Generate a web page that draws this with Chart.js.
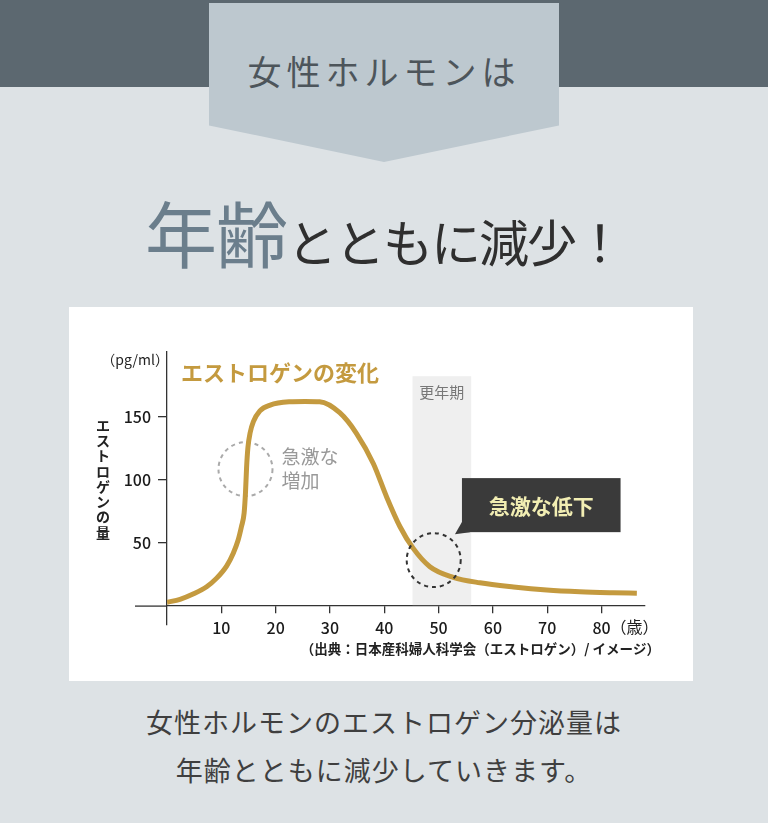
<!DOCTYPE html>
<html lang="ja">
<head>
    <meta charset="UTF-8">
    <title>エストロゲンの変化</title>
    <style>
        body {
            margin: 0;
            width: 768px;
            height: 823px;
            background: #dde2e5;
            position: relative;
            overflow: hidden;
            font-family: 'Noto Sans CJK JP', sans-serif;
        }
        .band {
            position: absolute; left: 0; top: 0; width: 768px; height: 87px;
            background: #5c6870;
        }
        .tag {
            position: absolute; left: 209px; top: 3px; width: 350px; height: 159px;
            background: #bdc8cf;
            clip-path: polygon(0 0, 100% 0, 100% 77%, 50% 100%, 0 77%);
        }
        .tag div {
            position: absolute; left: 0; right: 0; top: 48px;
            text-align: center; font-size: 34px; line-height: 40px;
            letter-spacing: 5px; color: #4d555b;
        }
        .headline {
            position: absolute; left: 0; top: 186px; width: 768px;
            text-align: center; white-space: nowrap;
            font-size: 50px; line-height: 90px; letter-spacing: -2px;
            font-weight: 400; color: #2f2f2f;
        }
        .headline .big { font-size: 72px; letter-spacing: -1px; color: #6b7e8c; }
        .panel {
            position: absolute; left: 69px; top: 307px; width: 624px; height: 374px;
            background: #fff;
        }
        .note {
            position: absolute; left: 0; top: 698px; width: 768px;
            text-align: center; font-size: 27px; line-height: 48px;
            letter-spacing: 1px; color: #3f3f3f;
        }
    </style>
</head>
<body>
    <div class="band"></div>
    <div class="tag"><div>女性ホルモンは</div></div>
    <div class="headline"><span class="big">年齢</span>とともに減少！</div>
    <div class="panel">
        <canvas id="estrogenChart" width="624" height="374"></canvas>
    </div>
    <div class="note">女性ホルモンのエストロゲン分泌量は<br>年齢とともに減少していきます。</div>

    <script src="https://cdn.jsdelivr.net/npm/chart.js"></script>
    <script>
        // 年齢（歳）とエストロゲン量（pg/ml）、図から読み取り
        const ages = [0, 2.4, 4.8, 7.3, 9.1, 11.0, 12.2, 13.1, 13.7, 14.2, 14.45, 14.65, 14.9,
                      15.3, 15.9, 17.1, 19.0, 22.6, 25.4, 28.1, 31.8, 34.9, 38.0, 40.4,
                      42.9, 45.3, 48.4, 52.7, 57.6, 63.8, 69.9, 76.0, 82.1, 86.5];
        const estrogen = [3, 5.4, 9.6, 15.4, 22, 32, 42, 52.5, 63, 74, 90, 110, 126,
                          137.5, 146.4, 155, 159.6, 162.2, 162.5, 162.2, 153.5, 137, 113, 87,
                          63, 46, 31.3, 22.9, 18.5, 15.2, 12.8, 11.4, 10.6, 10.2];
        const xTicks = [10, 20, 30, 40, 50, 60, 70, 80];
        const yTicks = [50, 100, 150];
        const menopause = [45.2, 56];   // 更年期

        const font = "'Noto Sans CJK JP', sans-serif";

        function dashedCircle(ctx, cx, cy, r, color) {
            ctx.save();
            ctx.strokeStyle = color;
            ctx.lineWidth = 2;
            ctx.setLineDash([4, 4]);
            ctx.beginPath();
            ctx.arc(cx, cy, r, 0, Math.PI * 2);
            ctx.stroke();
            ctx.restore();
        }

        const notes = {
            id: 'notes',
            beforeDatasetsDraw(chart) {
                const { ctx, scales: { x, y } } = chart;
                ctx.save();
                // x軸の左側の延長
                const y0 = y.getPixelForValue(0);
                ctx.strokeStyle = '#333';
                ctx.lineWidth = 1.3;
                ctx.beginPath();
                ctx.moveTo(x.left - 32, y0);
                ctx.lineTo(x.left, y0);
                ctx.stroke();

                // 更年期の帯
                const l = x.getPixelForValue(menopause[0]);
                const r = x.getPixelForValue(menopause[1]);
                const t = y.getPixelForValue(182.5);
                const b = y0 - 1;
                ctx.fillStyle = '#efefef';
                ctx.fillRect(l, t, r - l, b - t);
                ctx.fillStyle = '#777';
                ctx.font = '15px ' + font;
                ctx.textAlign = 'center';
                ctx.textBaseline = 'middle';
                ctx.fillText('更年期', (l + r) / 2, y.getPixelForValue(169.5));

                // 急激な増加
                dashedCircle(ctx, x.getPixelForValue(14.45), y.getPixelForValue(108.7), 27, '#aaa');
                ctx.fillStyle = '#999';
                ctx.font = '19px ' + font;
                ctx.textAlign = 'left';
                ctx.fillText('急激な', x.getPixelForValue(21.1), y.getPixelForValue(118.5));
                ctx.fillText('増加', x.getPixelForValue(21.1), y.getPixelForValue(99.5));

                // タイトル
                ctx.fillStyle = '#c49a3f';
                ctx.font = 'bold 22px ' + font;
                ctx.fillText('エストロゲンの変化', x.getPixelForValue(2.6), y.getPixelForValue(185.5));

                // 単位
                ctx.fillStyle = '#222';
                ctx.font = '14px ' + font;
                ctx.textAlign = 'right';
                ctx.fillText('（pg/ml）', x.left + 2, y.getPixelForValue(195.5));

                // 縦書きの軸タイトル
                const label = 'エストロゲンの量';
                ctx.font = 'bold 14px ' + font;
                ctx.textAlign = 'center';
                const cx = x.left - 64;
                const cy = y.getPixelForValue(101);
                [...label].forEach((ch, i) => {
                    ctx.fillText(ch, cx, cy + (i - 3.5) * 15.3);
                });

                // 単位（歳）と出典
                ctx.font = '16px ' + font;
                ctx.textAlign = 'left';
                ctx.fillText('（歳）', x.getPixelForValue(80) + 9, y0 + 21);
                ctx.font = 'bold 13.5px ' + font;
                ctx.textAlign = 'right';
                ctx.fillText('（出典：日本産科婦人科学会（エストロゲン）/ イメージ）', x.right + 15, y0 + 43);
                ctx.restore();
            },
            afterDatasetsDraw(chart) {
                const { ctx, scales: { x, y } } = chart;
                dashedCircle(ctx, x.getPixelForValue(49.1), y.getPixelForValue(36.5), 27, '#333');

                // 急激な低下の吹き出し
                const l = x.getPixelForValue(54.3), r = x.getPixelForValue(83.5);
                const t = y.getPixelForValue(101.6), b = y.getPixelForValue(58.7);
                ctx.save();
                ctx.fillStyle = '#3a3a3a';
                ctx.fillRect(l, t, r - l, b - t);
                ctx.beginPath();
                ctx.moveTo(l + 1, b - 12);
                ctx.lineTo(l - 7, b + 2);
                ctx.lineTo(l + 8, b);
                ctx.closePath();
                ctx.fill();
                ctx.fillStyle = '#f2eeb3';
                ctx.font = 'bold 21px ' + font;
                ctx.textAlign = 'center';
                ctx.textBaseline = 'middle';
                ctx.fillText('急激な低下', (l + r) / 2, (t + b) / 2 + 1);
                ctx.restore();
            }
        };

        new Chart(document.getElementById('estrogenChart'), {
            type: 'line',
            data: {
                datasets: [{
                    data: ages.map((a, i) => ({ x: a, y: estrogen[i] })),
                    borderColor: '#c49a3f',
                    borderWidth: 5,
                    pointRadius: 0,
                    cubicInterpolationMode: 'monotone',
                    fill: false
                }]
            },
            options: {
                responsive: false,
                animation: false,
                layout: { padding: { left: 48, right: 48, top: 45, bottom: 56 } },
                plugins: {
                    legend: { display: false },
                    tooltip: { enabled: false }
                },
                scales: {
                    x: {
                        type: 'linear',
                        min: 0,
                        max: 88,
                        position: { y: 0 },
                        afterBuildTicks: s => { s.ticks = xTicks.map(v => ({ value: v })); },
                        grid: { drawOnChartArea: false, tickLength: 7, color: '#333', lineWidth: 1.3 },
                        border: { color: '#333', width: 1.3 },
                        ticks: { color: '#1a1a1a', padding: 5, font: { family: font, size: 16, weight: 500 } }
                    },
                    y: {
                        min: -15,
                        max: 201.7,
                        position: 'left',
                        afterFit: s => { s.width = 50; },
                        afterBuildTicks: s => { s.ticks = yTicks.map(v => ({ value: v })); },
                        grid: { drawOnChartArea: false, tickLength: 9, color: '#333', lineWidth: 1.3 },
                        border: { color: '#333', width: 1.3 },
                        ticks: { color: '#1a1a1a', padding: 7, font: { family: font, size: 16, weight: 500 } }
                    }
                }
            },
            plugins: [notes]
        });
    </script>
</body>
</html>
